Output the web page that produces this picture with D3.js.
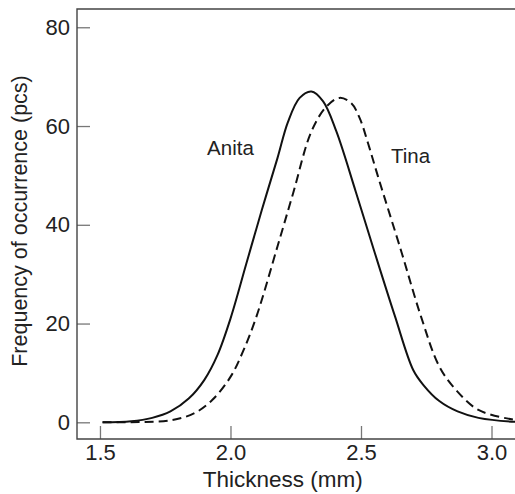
<!DOCTYPE html>
<html>
<head>
<meta charset="utf-8">
<script src="https://cdn.jsdelivr.net/npm/d3@7"></script>
<style>
    body { margin: 0; background: #fff; }
    svg text { font-family: "Liberation Sans", Arial, sans-serif; fill: #222; }
</style>
</head>
<body>
<div id="graphic"></div>
<script>
// thickness (mm) / frequency (pcs)
var anitaThickness = [1.51, 1.62, 1.70, 1.77, 1.84, 1.90, 1.95, 2.0, 2.06, 2.12, 2.18, 2.22, 2.265, 2.31, 2.355, 2.405, 2.48, 2.55, 2.63, 2.70, 2.74, 2.80, 2.87, 2.95, 3.09, 3.12],
    anitaFreq = [0, 0.2, 0.9, 2.2, 4.8, 8.6, 13.6, 21, 32, 43, 53.5, 60.8, 65.7, 67.0, 65, 59, 46.7, 34.8, 21.5, 10.6, 7.5, 4.3, 2.2, 0.9, 0.1, 0.1],
    tinaThickness = [1.51, 1.65, 1.77, 1.86, 1.93, 2.0, 2.05, 2.10, 2.18, 2.24, 2.31, 2.367, 2.418, 2.463, 2.495, 2.527, 2.565, 2.655, 2.73, 2.80, 2.865, 2.95, 3.09, 3.12],
    tinaFreq = [0, 0.05, 0.4, 1.8, 4.5, 9.2, 14.6, 21.5, 35.6, 46.4, 58.9, 63.9, 65.7, 64.6, 61.6, 56.5, 49.8, 34.5, 21.4, 11.3, 6.5, 2.5, 0.5, 0.4],
    xTicks = [1.5, 2.0, 2.5, 3.0],
    yTicks = [0, 20, 40, 60, 80];

function graph() {

    var margin = {
        top: 9,
        right: 0,
        bottom: 55,
        left: 77
    };

    var width = 515 - margin.left - margin.right,
        height = 494 - margin.top - margin.bottom;

    var svg = d3.select("#graphic").append("svg")
        .attr("width", width + margin.left + margin.right)
        .attr("height", height + margin.top + margin.bottom)
        .append("g")
        .attr("transform", "translate(" + margin.left + "," + margin.top + ")");

    var x = d3.scaleLinear().domain([1.412, 3.09]).range([0, width]),
        y = d3.scaleLinear().domain([-3.38, 83.7]).range([height, 0]);

    var xAxis = d3.axisBottom(x)
        .tickValues(xTicks)
        .tickFormat(d3.format(".1f"))
        .tickSizeInner(-13)
        .tickSizeOuter(0)
        .tickPadding(5);

    var yAxis = d3.axisLeft(y)
        .tickValues(yTicks)
        .tickSizeInner(-13)
        .tickSizeOuter(0)
        .tickPadding(7);

    var gx = svg.append("g")
        .attr("transform", "translate(0," + height + ")")
        .call(xAxis);

    var gy = svg.append("g").call(yAxis);

    [gx, gy].forEach(function (g) {
        g.select(".domain").remove();
        g.selectAll(".tick line").attr("stroke", "#777").attr("stroke-width", 1.3);
        g.selectAll(".tick text")
            .attr("font-size", 22)
            .attr("font-family", "Liberation Sans, Arial, sans-serif")
            .attr("fill", "#222");
    });

    // frame: left, top, bottom (right side runs off the picture)
    svg.append("path")
        .attr("d", "M" + width + ",0H0V" + height + "H" + width)
        .attr("fill", "none")
        .attr("stroke", "#444")
        .attr("stroke-width", 1.4);

    var line = d3.line()
        .x(function (d) { return x(d[0]); })
        .y(function (d) { return y(d[1]); })
        .curve(d3.curveCatmullRom.alpha(0.5));

    svg.append("path")
        .datum(d3.zip(tinaThickness, tinaFreq))
        .attr("d", line)
        .attr("fill", "none")
        .attr("stroke", "#111")
        .attr("stroke-width", 2)
        .attr("stroke-dasharray", "9,5");

    svg.append("path")
        .datum(d3.zip(anitaThickness, anitaFreq))
        .attr("d", line)
        .attr("fill", "none")
        .attr("stroke", "#111")
        .attr("stroke-width", 2);

    svg.append("text")
        .attr("x", x(2.0))
        .attr("y", y(54.2))
        .attr("text-anchor", "middle")
        .attr("font-size", 20.5)
        .text("Anita");

    svg.append("text")
        .attr("x", x(2.69))
        .attr("y", y(52.5))
        .attr("text-anchor", "middle")
        .attr("font-size", 20.5)
        .text("Tina");

    svg.append("text")
        .attr("x", x(2.2))
        .attr("y", height + 48)
        .attr("text-anchor", "middle")
        .attr("font-size", 22.5)
        .text("Thickness (mm)");

    svg.append("text")
        .attr("transform", "translate(" + (27 - margin.left) + "," + (221 - margin.top) + ")rotate(-90)")
        .attr("text-anchor", "middle")
        .attr("font-size", 21.5)
        .text("Frequency of occurrence (pcs)");
}

graph();
</script>
</body>
</html>
